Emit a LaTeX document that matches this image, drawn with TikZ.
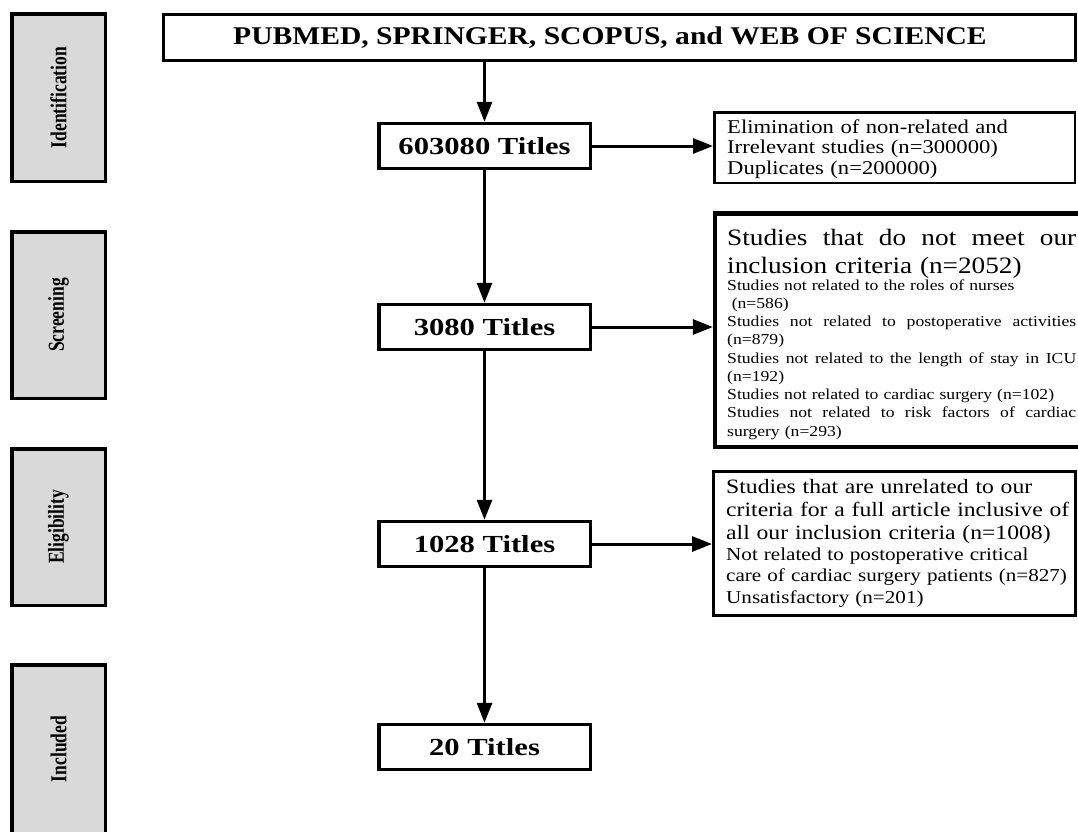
\documentclass[tikz,border=0pt]{standalone}
\usepackage{graphicx}
\usepackage{fontspec}
\setmainfont{Liberation Serif}
\newfontfamily\wfont[FakeStretch=1.16]{Liberation Serif}
\newfontfamily\tfont[FakeStretch=1.25]{Liberation Serif}
\usetikzlibrary{arrows.meta}
\definecolor{stagegray}{HTML}{D9D9D9}
\newcommand\jl[1]{\makebox[349pt][s]{\spaceskip=0.25em plus 20em\relax #1}}
\newcommand\stagelabel[1]{\rotatebox{90}{\scalebox{1}[1.3]{\bfseries\fontsize{17.5}{20}\selectfont #1}}}
\begin{document}
\begin{tikzpicture}[x=1pt,y=-1pt,
  stagebox/.style={draw=black, fill=stagegray, line width=3.5pt, inner sep=0pt, minimum width=93.5pt},
  titlebox/.style={draw=black, line width=3.5pt, fill=white, minimum width=211.5pt, minimum height=45pt, inner sep=0pt, font=\tfont\bfseries\fontsize{24.5}{28}\selectfont},
  exbox/.style={draw=black, fill=white, inner sep=0pt},
  extext/.style={anchor=base west, inner sep=0pt, align=left},
  flow/.style={line width=3pt, -{Triangle[width=15pt,length=20pt]}},
]
\useasboundingbox (0,0) rectangle (1078,831);
\clip (0,0) rectangle (1078,831);
\fill[white] (0,0) rectangle (1078,831);

% stage boxes
\node[stagebox, minimum height=167.5pt] (s1) at (58.5,97.5) {\stagelabel{Identification}};
\node[stagebox, minimum height=166.5pt] (s2) at (58.5,315) {\stagelabel{Screening}};
\node[stagebox, minimum height=156.5pt] (s3) at (58.5,527) {\stagelabel{Eligibility}};
\node[stagebox, minimum height=168.5pt] (s4) at (58.5,749) {\stagelabel{Included}};

% source box
\node[draw=black, line width=3pt, fill=white, minimum width=912pt, minimum height=46pt, inner sep=0pt,
  font=\wfont\bfseries\fontsize{25.5}{30}\selectfont] (src) at (619.5,37.5)
  {PUBMED, SPRINGER, SCOPUS, and WEB OF SCIENCE\rule{19pt}{0pt}};

% title boxes
\node[titlebox] (t1) at (484.5,146) {603080 Titles};
\node[titlebox] (t2) at (484.5,327) {3080 Titles};
\node[titlebox] (t3) at (484.5,544) {1028 Titles};
\node[titlebox] (t4) at (484.5,747) {20 Titles};

% exclusion boxes
\node[exbox, line width=2.5pt, minimum width=360.5pt, minimum height=70.5pt] (ex1) at (894.5,147.5) {};
\node[exbox, line width=4.5pt, minimum width=375pt, minimum height=233.5pt] (ex2) at (902.6,330) {};
\node[exbox, line width=3pt, minimum width=362pt, minimum height=144pt] (ex3) at (894.5,543.5) {};

\node[extext, text width=345pt, font=\wfont\fontsize{19.5}{20.8}\selectfont] (ex1t) at (727,133)
  {Elimination of non-related and\\Irrelevant studies (n=300000)\\Duplicates (n=200000)};

\node[extext, text width=349pt, font=\wfont\fontsize{23.5}{28}\selectfont] (ex2h) at (727,245)
  {\jl{Studies that do not meet our}\\inclusion criteria (n=2052)};
\node[extext, text width=349pt, font=\wfont\fontsize{15.2}{18.25}\selectfont] (ex2b) at (727,290)
  {Studies not related to the roles of nurses\\
   \hspace*{0.3em}(n=586)\\
   \jl{Studies not related to postoperative activities}\\
   (n=879)\\
   \jl{Studies not related to the length of stay in ICU}\\
   (n=192)\\
   Studies not related to cardiac surgery (n=102)\\
   \jl{Studies not related to risk factors of cardiac}\\
   surgery (n=293)};

\node[extext, text width=365pt, font=\wfont\fontsize{20.4}{23}\selectfont] (ex3h) at (726,493)
  {Studies that are unrelated to our\\criteria for a full article inclusive of\\all our inclusion criteria (n=1008)};
\node[extext, text width=365pt, font=\wfont\fontsize{18.2}{21.5}\selectfont] (ex3b) at (726,560)
  {Not related to postoperative critical\\care of cardiac surgery patients (n=827)\\Unsatisfactory (n=201)};

% connectors
\draw[flow] (src.south -| t1.north) -- (t1.north);
\draw[flow] (t1.south) -- (t2.north);
\draw[flow] (t2.south) -- (t3.north);
\draw[flow] (t3.south) -- (t4.north);
\draw[flow] (t1.east) -- (t1.east -| ex1.west);
\draw[flow] (t2.east) -- (t2.east -| ex2.west);
\draw[flow] (t3.east) -- (t3.east -| ex3.west);
\end{tikzpicture}
\end{document}
